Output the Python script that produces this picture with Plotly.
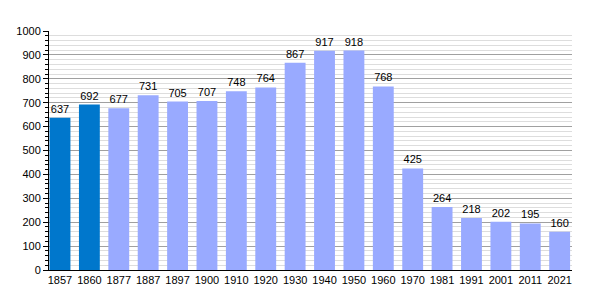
import plotly.graph_objects as go

years = ["1857", "1860", "1877", "1887", "1897", "1900", "1910", "1920", "1930",
         "1940", "1950", "1960", "1970", "1981", "1991", "2001", "2011", "2021"]
population = [637, 692, 677, 731, 705, 707, 748, 764, 867,
              917, 918, 768, 425, 264, 218, 202, 195, 160]
dark_years = ["1857", "1860"]

dark_color = "rgb(0,119,204)"
light_color = "rgb(153,170,255)"
colors = [dark_color if y in dark_years else light_color for y in years]

x_idx = list(range(len(years)))

fig = go.Figure()
fig.add_trace(go.Bar(
    x=x_idx, y=population,
    marker=dict(color=colors, line=dict(width=0)),
    text=[str(v) for v in population],
    textposition="outside",
    textfont=dict(family="Liberation Sans, Arial, sans-serif", size=11, color="black"),
    cliponaxis=False,
    width=0.71,
))

fig.update_layout(
    width=600, height=300,
    margin=dict(l=49, r=28, t=31, b=30),
    paper_bgcolor="white", plot_bgcolor="white",
    showlegend=False,
    font=dict(family="Liberation Sans, Arial, sans-serif", size=11, color="black"),
)
fig.update_xaxes(
    tickmode="array", tickvals=x_idx, ticktext=years,
    range=[-0.374, 17.42],
    showgrid=False, zeroline=False,
    showline=True, linecolor="black", linewidth=1,
    ticks="", tickfont=dict(size=11, color="black"),
)
fig.update_yaxes(
    range=[0, 1000], dtick=100,
    showgrid=True, gridcolor="#a0a0a0", gridwidth=1,
    minor=dict(dtick=20, showgrid=True, gridcolor="#dddddd", gridwidth=1,
               ticks="outside", ticklen=3, tickcolor="black"),
    ticks="outside", ticklen=5, tickcolor="black",
    showline=True, linecolor="black", linewidth=1,
    zeroline=False,
    tickfont=dict(size=11, color="black"),
)

fig.write_html("out.html")
